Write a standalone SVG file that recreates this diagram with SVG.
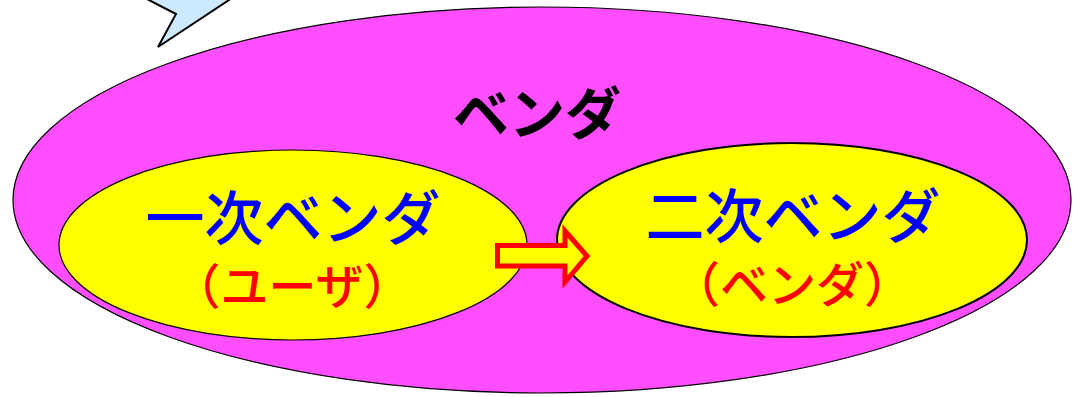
<svg xmlns="http://www.w3.org/2000/svg" width="1074" height="397" viewBox="0 0 1074 397">
<style>
.jp{font-family:"Noto Sans CJK JP","Noto Sans CJK SC",sans-serif;text-anchor:middle}
.outer{fill:#ff4dff;stroke:#000;stroke-width:1.2}
.inner{fill:#ffff00;stroke:#000}
.blue{font-size:59px;font-weight:500;fill:#0000ff}
.red{font-size:48px;font-weight:500;fill:#ff0000}
</style>
<rect width="1074" height="397" fill="#fff"/>
<g id="outer">
<ellipse class="outer" cx="542" cy="200" rx="529" ry="193"/>
<text class="jp" x="537" y="134" font-size="56" font-weight="bold" fill="#000">ベンダ</text>
</g>
<g id="callout">
<polygon points="145,-2 176,14 158,47 232,-2" fill="#cce9ff" stroke="#000" stroke-width="2"/>
</g>
<g id="primary">
<ellipse class="inner" cx="293" cy="245" rx="234" ry="95" stroke-width="1.2"/>
<text class="jp blue" x="293" y="240">一次ベンダ</text>
<text class="jp red" x="292" y="304">（ユーザ）</text>
</g>
<g id="secondary">
<ellipse class="inner" cx="792" cy="240" rx="235" ry="97" stroke-width="2"/>
<text class="jp blue" x="793" y="238">二次ベンダ</text>
<text class="jp red" x="792" y="302">（ベンダ）</text>
</g>
<g id="connectors">
<polygon points="497.5,245.5 565,245.5 565,231 587,256 565,282 565,266 497.5,266" fill="#ffff00" stroke="#ff0000" stroke-width="5"/>
</g>
</svg>
